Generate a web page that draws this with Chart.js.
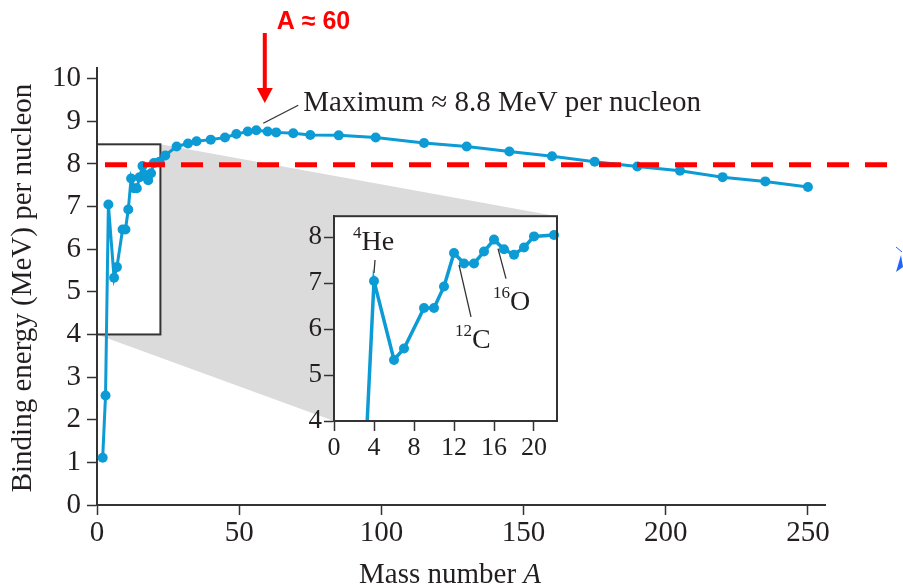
<!DOCTYPE html>
<html>
<head>
<meta charset="utf-8">
<script src="https://cdn.jsdelivr.net/npm/chart.js@4.4.1/dist/chart.umd.min.js"></script>
<style>
  html, body { margin: 0; padding: 0; background: #fff; }
  #wrap { position: relative; width: 903px; height: 588px; }
  #mainChart { position: absolute; left: 0; top: 0; }
  #insetChart { position: absolute; left: 280px; top: 198px; }
</style>
</head>
<body>
<div id="wrap">
  <canvas id="mainChart" width="903" height="588"></canvas>
  <canvas id="insetChart" width="290" height="265"></canvas>
</div>
<script>
// Energía de enlace por nucleón frente al número másico
const massNumber = [2, 3, 4, 6, 7, 9, 10, 11, 12, 13, 14, 15, 16, 17, 18, 19, 20, 22,
  24, 28, 32, 35, 40, 45, 49, 53, 56, 60, 63, 69, 75, 85, 98,
  115, 130, 145, 160, 175, 190, 205, 220, 235, 250];
const bindingEnergy = [1.11, 2.57, 7.05, 5.33, 5.58, 6.46, 6.46, 6.93, 7.66, 7.43, 7.43, 7.69, 7.95, 7.74, 7.62, 7.78, 8.02, 8.05,
  8.2, 8.41, 8.48, 8.53, 8.57, 8.62, 8.70, 8.76, 8.79, 8.76, 8.74, 8.72, 8.68, 8.67, 8.62,
  8.49, 8.41, 8.29, 8.18, 8.05, 7.94, 7.84, 7.69, 7.59, 7.46];

const xTicks = [0, 50, 100, 150, 200, 250];
const yTicks = [0, 1, 2, 3, 4, 5, 6, 7, 8, 9, 10];
const insetXTicks = [0, 4, 8, 12, 16, 20];
const insetYTicks = [4, 5, 6, 7, 8];

const thresholdEnergy = 7.98; // línea roja discontinua
const peakA = 59;             // flecha "A ≈ 60"
const zoomA = [0, 22.3];      // rango del recuadro ampliado
const zoomE = [4, 8.46];

const blue = 'rgb(12, 155, 212)';
const ink = '#231f20';
const serif = "'Liberation Serif', 'Times New Roman', serif";
const insetLeft = 280, insetTop = 198;

const points = massNumber.map((a, i) => ({ x: a, y: bindingEnergy[i] }));
const insetPoints = points.filter(p => p.x <= zoomA[1]);

function axis(ticks, fontSize, padding, extra) {
  return Object.assign({
    type: 'linear',
    afterBuildTicks: s => { s.ticks = ticks.map(v => ({ value: v })); },
    grid: { drawOnChartArea: false, drawTicks: true, tickLength: 10, tickColor: '#333', tickWidth: 1.5 },
    border: { display: true, color: '#333', width: 2 },
    ticks: { color: ink, padding: padding, font: { family: serif, size: fontSize } }
  }, extra);
}

function supLabel(ctx, x, baseline, sup, main, size) {
  ctx.font = Math.round(size * 0.6) + 'px ' + serif;
  ctx.textAlign = 'left';
  ctx.textBaseline = 'alphabetic';
  ctx.fillText(sup, x, baseline - size * 0.42);
  const w = ctx.measureText(sup).width;
  ctx.font = size + 'px ' + serif;
  ctx.fillText(main, x + w, baseline);
}

// Gráfico ampliado (recuadro)
const insetChart = new Chart(document.getElementById('insetChart'), {
  type: 'scatter',
  data: {
    datasets: [{
      data: insetPoints,
      showLine: true,
      borderColor: blue,
      backgroundColor: blue,
      borderWidth: 3.5,
      pointRadius: 5,
      pointBorderWidth: 0,
      clip: { left: 0, top: 0, right: 8, bottom: 0 }
    }]
  },
  options: {
    responsive: false,
    animation: false,
    devicePixelRatio: 1,
    layout: { padding: { left: 0, top: 10, right: 13, bottom: 0 } },
    plugins: { legend: { display: false }, tooltip: { enabled: false } },
    scales: {
      x: axis(insetXTicks, 26, 2, { min: zoomA[0], max: zoomA[1], afterFit: s => { s.height = 42; } }),
      y: axis(insetYTicks, 27, 2, { min: zoomE[0], max: zoomE[1], afterFit: s => { s.width = 54; } })
    }
  },
  plugins: [{
    id: 'insetDecor',
    beforeDraw(chart) {
      const a = chart.chartArea, ctx = chart.ctx;
      ctx.save();
      ctx.fillStyle = '#fff';
      ctx.fillRect(a.left, a.top, a.right - a.left, a.bottom - a.top);
      ctx.restore();
    },
    afterDraw(chart) {
      const a = chart.chartArea, ctx = chart.ctx;
      const xs = chart.scales.x, ys = chart.scales.y;
      ctx.save();
      ctx.strokeStyle = '#333';
      ctx.lineWidth = 2;
      ctx.strokeRect(a.left, a.top, a.right - a.left, a.bottom - a.top);

      const px = i => xs.getPixelForValue(massNumber[i]);
      const py = i => ys.getPixelForValue(bindingEnergy[i]);
      const he = massNumber.indexOf(4), c = massNumber.indexOf(12), o = massNumber.indexOf(16);

      ctx.strokeStyle = '#333';
      ctx.lineWidth = 1.3;
      ctx.beginPath();
      ctx.moveTo(px(he), py(he) - 8); ctx.lineTo(px(he) + 1, py(he) - 21);
      ctx.moveTo(px(c) + 5, py(c) + 12); ctx.lineTo(px(c) + 17, py(c) + 64);
      ctx.moveTo(px(o) + 4, py(o) + 9); ctx.lineTo(px(o) + 12, py(o) + 39);
      ctx.stroke();

      ctx.fillStyle = ink;
      supLabel(ctx, px(he) - 21, py(he) - 31, '4', 'He', 28);
      supLabel(ctx, px(c) + 1, py(c) + 95, '12', 'C', 28);
      supLabel(ctx, px(o) - 1, py(o) + 70, '16', 'O', 28);
      ctx.restore();
    }
  }]
});

// Gráfico principal
new Chart(document.getElementById('mainChart'), {
  type: 'scatter',
  data: {
    datasets: [{
      data: points,
      showLine: true,
      borderColor: blue,
      backgroundColor: blue,
      borderWidth: 3,
      pointRadius: 5,
      pointBorderWidth: 0
    }]
  },
  options: {
    responsive: false,
    animation: false,
    devicePixelRatio: 1,
    layout: { padding: { left: 0, top: 68, right: 78, bottom: 0 } },
    plugins: { legend: { display: false }, tooltip: { enabled: false } },
    scales: {
      x: axis(xTicks, 29, 1, { min: 0, max: 256, afterFit: s => { s.height = 83; } }),
      y: axis(yTicks, 29, 6, { min: 0, max: 10.25, afterFit: s => { s.width = 97; } })
    }
  },
  plugins: [{
    id: 'mainDecor',
    beforeDatasetsDraw(chart) {
      const ctx = chart.ctx, xs = chart.scales.x, ys = chart.scales.y;
      const bx0 = xs.getPixelForValue(zoomA[0]), bx1 = xs.getPixelForValue(zoomA[1]);
      const by0 = ys.getPixelForValue(zoomE[0]), by1 = ys.getPixelForValue(zoomE[1]);
      const ia = insetChart.chartArea;
      const il = insetLeft + ia.left, ir = insetLeft + ia.right;
      const it = insetTop + ia.top, ib = insetTop + ia.bottom;
      ctx.save();
      ctx.fillStyle = '#dbdbdc';
      ctx.beginPath();
      ctx.moveTo(bx1, by1);
      ctx.lineTo(ir, it);
      ctx.lineTo(ir, ib);
      ctx.lineTo(il, ib);
      ctx.lineTo(bx0, by0);
      ctx.lineTo(bx1, by0);
      ctx.closePath();
      ctx.fill();
      ctx.strokeStyle = '#333';
      ctx.lineWidth = 2;
      ctx.strokeRect(bx0, by1, bx1 - bx0, by0 - by1);
      ctx.restore();
    },
    afterDraw(chart) {
      const ctx = chart.ctx, xs = chart.scales.x, ys = chart.scales.y;
      ctx.save();

      // línea discontinua roja
      const yr = ys.getPixelForValue(thresholdEnergy);
      ctx.strokeStyle = '#ff0000';
      ctx.lineWidth = 5;
      ctx.setLineDash([22, 16]);
      ctx.beginPath();
      ctx.moveTo(105, yr);
      ctx.lineTo(903, yr);
      ctx.stroke();
      ctx.setLineDash([]);

      // flecha roja
      const ax = xs.getPixelForValue(peakA);
      ctx.fillStyle = '#ff0000';
      ctx.fillRect(ax - 2, 33, 4, 57);
      ctx.beginPath();
      ctx.moveTo(ax - 8, 88);
      ctx.lineTo(ax + 8, 88);
      ctx.lineTo(ax, 103);
      ctx.closePath();
      ctx.fill();
      ctx.font = "bold 25px 'Liberation Sans', Arial, sans-serif";
      ctx.textAlign = 'left';
      ctx.textBaseline = 'alphabetic';
      ctx.fillText('A \u2248 60', ax + 12, 29);

      // anotación del máximo
      const mi = bindingEnergy.indexOf(Math.max(...bindingEnergy));
      const mx = xs.getPixelForValue(massNumber[mi]), my = ys.getPixelForValue(bindingEnergy[mi]);
      ctx.strokeStyle = '#333';
      ctx.lineWidth = 1.3;
      ctx.beginPath();
      ctx.moveTo(mx + 7, my - 7);
      ctx.lineTo(mx + 42, my - 25);
      ctx.stroke();
      ctx.fillStyle = ink;
      ctx.font = '29px ' + serif;
      ctx.fillText('Maximum \u2248 8.8 MeV per nucleon', mx + 47, my - 19);

      // título eje x
      ctx.font = '29px ' + serif;
      const t1 = 'Mass number ';
      const w1 = ctx.measureText(t1).width;
      ctx.font = 'italic 29px ' + serif;
      const w2 = ctx.measureText('A').width;
      const sx = 450 - (w1 + w2) / 2;
      ctx.font = '29px ' + serif;
      ctx.fillText(t1, sx, 583);
      ctx.font = 'italic 29px ' + serif;
      ctx.fillText('A', sx + w1, 583);

      // título eje y
      ctx.translate(23, 288);
      ctx.rotate(-Math.PI / 2);
      ctx.font = '29px ' + serif;
      ctx.textAlign = 'center';
      ctx.textBaseline = 'middle';
      ctx.fillText('Binding energy (MeV) per nucleon', 0, 0);
      ctx.restore();

      // icono azul recortado en el borde derecho
      ctx.save();
      ctx.strokeStyle = 'rgb(30, 100, 255)';
      ctx.fillStyle = 'rgb(30, 100, 255)';
      ctx.lineWidth = 1;
      ctx.beginPath();
      ctx.moveTo(896, 247); ctx.lineTo(902, 252);
      ctx.stroke();
      ctx.beginPath();
      ctx.moveTo(901, 255); ctx.lineTo(896, 272); ctx.lineTo(903, 267); ctx.closePath();
      ctx.fill();
      ctx.restore();
    }
  }]
});
</script>
</body>
</html>
